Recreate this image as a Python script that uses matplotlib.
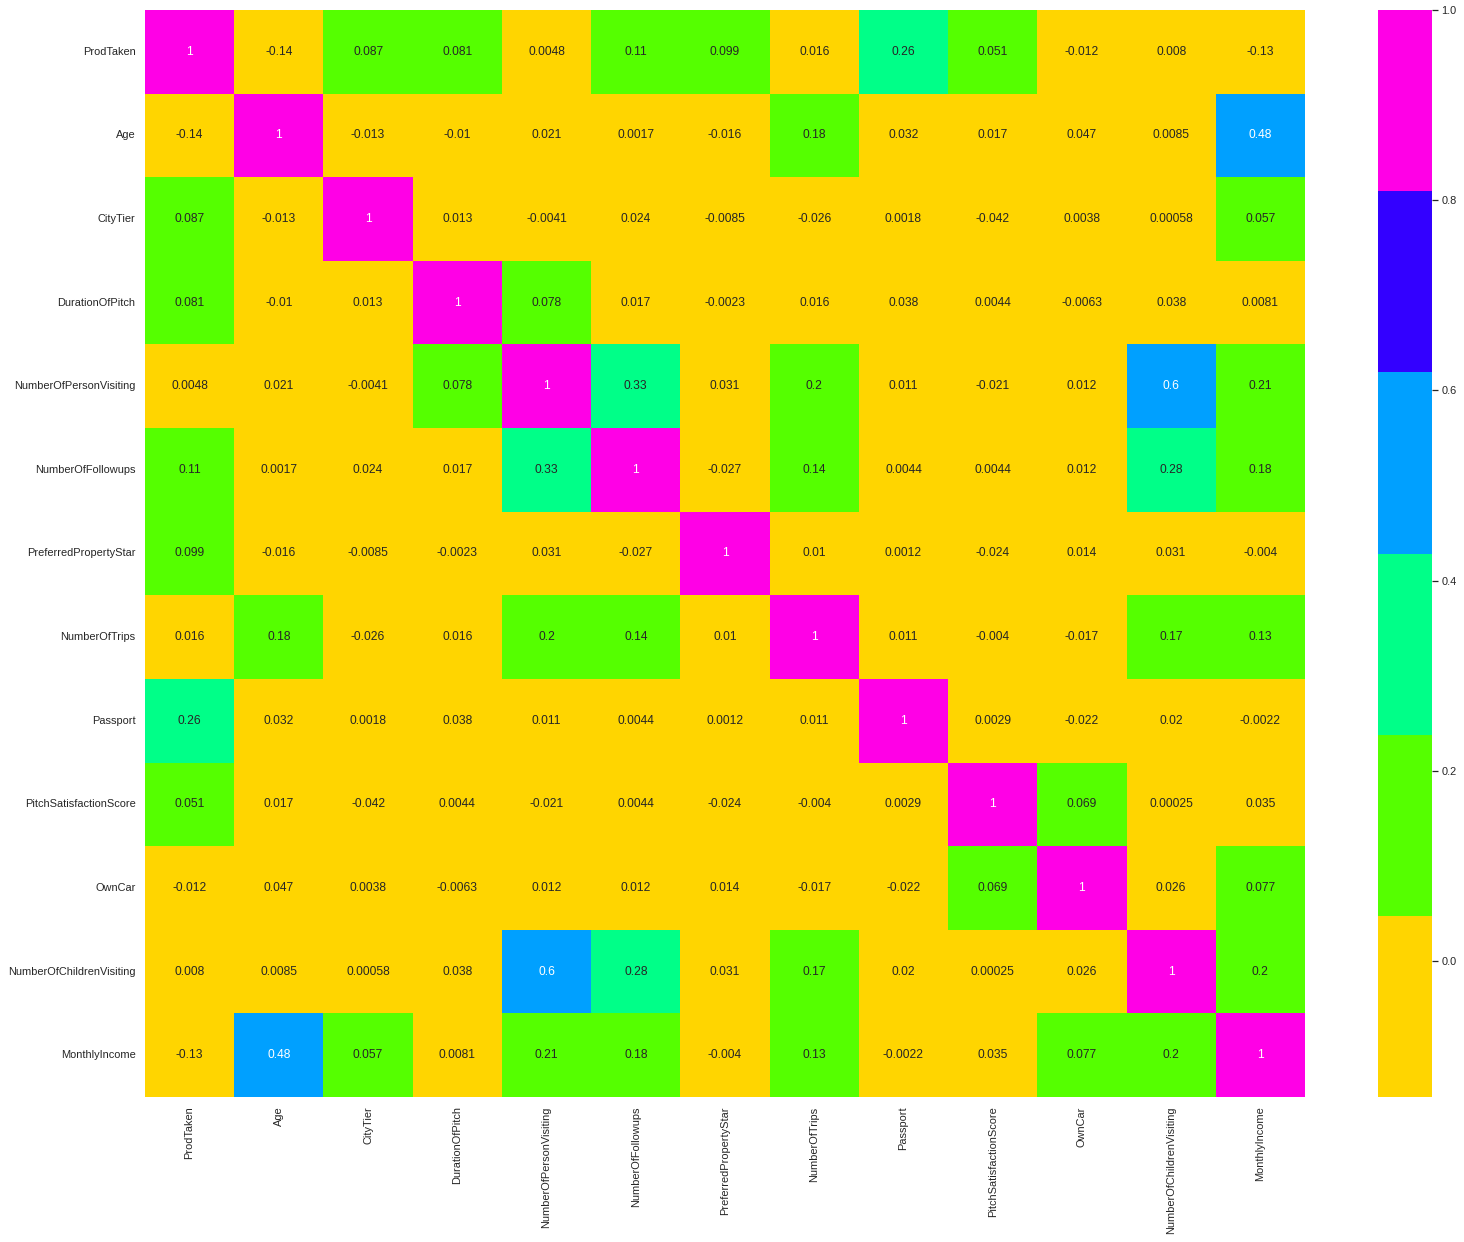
import numpy as np
import matplotlib
matplotlib.use("Agg")
import matplotlib.pyplot as plt
from matplotlib.colors import ListedColormap
import seaborn as sns

labels = ["ProdTaken", "Age", "CityTier", "DurationOfPitch", "NumberOfPersonVisiting",
          "NumberOfFollowups", "PreferredPropertyStar", "NumberOfTrips", "Passport",
          "PitchSatisfactionScore", "OwnCar", "NumberOfChildrenVisiting", "MonthlyIncome"]

prod_taken = [1, -0.14, 0.087, 0.081, 0.0048, 0.11, 0.099, 0.016, 0.26, 0.051, -0.012, 0.008, -0.13]
age = [-0.14, 1, -0.013, -0.01, 0.021, 0.0017, -0.016, 0.18, 0.032, 0.017, 0.047, 0.0085, 0.48]
city_tier = [0.087, -0.013, 1, 0.013, -0.0041, 0.024, -0.0085, -0.026, 0.0018, -0.042, 0.0038, 0.00058, 0.057]
duration = [0.081, -0.01, 0.013, 1, 0.078, 0.017, -0.0023, 0.016, 0.038, 0.0044, -0.0063, 0.038, 0.0081]
persons = [0.0048, 0.021, -0.0041, 0.078, 1, 0.33, 0.031, 0.2, 0.011, -0.021, 0.012, 0.6, 0.21]
followups = [0.11, 0.0017, 0.024, 0.017, 0.33, 1, -0.027, 0.14, 0.0044, 0.0044, 0.012, 0.28, 0.18]
prop_star = [0.099, -0.016, -0.0085, -0.0023, 0.031, -0.027, 1, 0.01, 0.0012, -0.024, 0.014, 0.031, -0.004]
trips = [0.016, 0.18, -0.026, 0.016, 0.2, 0.14, 0.01, 1, 0.011, -0.004, -0.017, 0.17, 0.13]
passport = [0.26, 0.032, 0.0018, 0.038, 0.011, 0.0044, 0.0012, 0.011, 1, 0.0029, -0.022, 0.02, -0.0022]
pitch_score = [0.051, 0.017, -0.042, 0.0044, -0.021, 0.0044, -0.024, -0.004, 0.0029, 1, 0.069, 0.00025, 0.035]
own_car = [-0.012, 0.047, 0.0038, -0.0063, 0.012, 0.012, 0.014, -0.017, -0.022, 0.069, 1, 0.026, 0.077]
children = [0.008, 0.0085, 0.00058, 0.038, 0.6, 0.28, 0.031, 0.17, 0.02, 0.00025, 0.026, 1, 0.2]
income = [-0.13, 0.48, 0.057, 0.0081, 0.21, 0.18, -0.004, 0.13, -0.0022, 0.035, 0.077, 0.2, 1]

corr = np.array([prod_taken, age, city_tier, duration, persons, followups, prop_star,
                 trips, passport, pitch_score, own_car, children, income])

colors = ["#FFD500", "#55FF00", "#00FF88", "#00A0FF", "#3300FF", "#FF00E6"]

sns.set_theme(style="white")
plt.rcParams['font.family'] = ['Liberation Sans', 'DejaVu Sans']

fig = plt.figure(figsize=(1464 / 72, 1242 / 72), dpi=72)
ax = fig.add_axes([145 / 1464, 1 - 1097 / 1242, 1160 / 1464, 1087 / 1242])
cax = fig.add_axes([1378 / 1464, 1 - 1097 / 1242, 54 / 1464, 1087 / 1242])

sns.heatmap(corr, annot=True, cmap=ListedColormap(colors), vmin=-0.143, vmax=1.0,
            xticklabels=labels, yticklabels=labels, ax=ax, cbar_ax=cax,
            annot_kws={"size": 12})
ax.tick_params(axis='both', labelsize=11)
plt.setp(ax.get_yticklabels(), rotation=0)
plt.setp(ax.get_xticklabels(), rotation=90)
cax.tick_params(labelsize=11)

fig.savefig("out.png", dpi=72)
